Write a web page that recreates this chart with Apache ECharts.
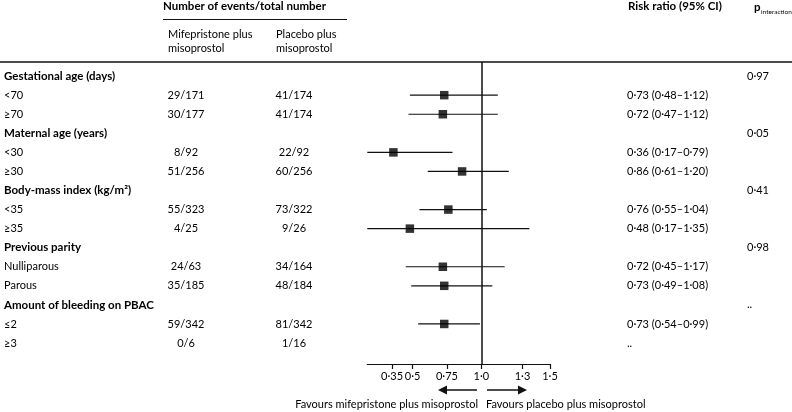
<!DOCTYPE html>
<html><head><meta charset="utf-8">
<script src="https://cdn.jsdelivr.net/npm/echarts@6/dist/echarts.min.js"></script>
<style>html,body{margin:0;padding:0;background:#fff}#c{width:792px;height:412px}</style>
</head><body><div id="c"></div>
<script>
// ---- data ----
const rowLabels = ['Gestational age (days)', '<70', '≥70', 'Maternal age (years)', '<30', '≥30',
  'Body-mass index (kg/m²)', '<35', '≥35', 'Previous parity', 'Nulliparous', 'Parous',
  'Amount of bleeding on PBAC', '≤2', '≥3'];
const isGroupHeader = [1,0,0,1,0,0,1,0,0,1,0,0,1,0,0];
const mifeEvents = ['', '29/171', '30/177', '', '8/92', '51/256', '', '55/323', '4/25', '', '24/63', '35/185', '', '59/342', '0/6'];
const placeboEvents = ['', '41/174', '41/174', '', '22/92', '60/256', '', '73/322', '9/26', '', '34/164', '48/184', '', '81/342', '1/16'];
const riskRatio = [null, 0.73, 0.72, null, 0.36, 0.86, null, 0.76, 0.48, null, 0.72, 0.73, null, 0.73, null];
const ciLow     = [null, 0.48, 0.47, null, 0.17, 0.61, null, 0.55, 0.17, null, 0.45, 0.49, null, 0.54, null];
const ciHigh    = [null, 1.12, 1.12, null, 0.79, 1.20, null, 1.04, 1.35, null, 1.17, 1.08, null, 0.99, null];
const notEstimable = [0,0,0,0,0,0,0,0,0,0,0,0,0,0,1];
const pInteraction = ['0·97', '', '', '0·05', '', '', '0·41', '', '', '0·98', '', '', '..', '', ''];
const xTicks = [0.35, 0.5, 0.75, 1.0, 1.3, 1.5];
const xTickLabels = ['0·35', '0·5', '0·75', '1·0', '1·3', '1·5'];

// ---- helpers ----
const FONT = 'Lato, "Open Sans", sans-serif';
const TXT = '#000';
const fmt = v => v.toFixed(2).replace('.', '·');
const rrText = riskRatio.map((r, i) => r != null ? `${fmt(r)} (${fmt(ciLow[i])}–${fmt(ciHigh[i])})` : (notEstimable[i] ? '..' : ''));

const Y_MIN = -0.74, Y_MAX = 15.1;
const GRID_TOP = 62, GRID_BOTTOM = 48;

function textColumn(name, texts, colX, align, weightFn) {
  const data = [];
  texts.forEach((t, i) => { if (t) data.push([colX, i, t]); });
  return {
    type: 'custom', name, xAxisIndex: 1, yAxisIndex: 1, silent: true,
    data,
    renderItem(params, api) {
      const row = api.value(1);
      const p = api.coord([api.value(0), row]);
      const t = data[params.dataIndex][2];
      const bold = weightFn ? weightFn(row) : false;
      return {
        type: 'text', x: p[0], y: p[1],
        style: {
          text: t, fill: TXT,
          font: (bold ? 'bold 11.5px ' : '11px ') + FONT,
          textAlign: align, textVerticalAlign: 'middle',
          align: align, verticalAlign: 'middle'
        }
      };
    }
  };
}

const chart = echarts.init(document.getElementById('c'), null, { renderer: 'canvas' });
chart.setOption({
  animation: false,
  backgroundColor: '#fff',
  grid: [
    { left: 367.3, right: 242, top: GRID_TOP, bottom: GRID_BOTTOM },
    { left: 0, right: 0, top: GRID_TOP, bottom: GRID_BOTTOM }
  ],
  xAxis: [
    {
      type: 'value', gridIndex: 0, min: 0.17, max: 1.5,
      splitLine: { show: false },
      axisLine: { show: true, onZero: false, lineStyle: { color: '#111', width: 1.2 } },
      axisTick: { show: true, customValues: xTicks, length: 5, lineStyle: { color: '#111', width: 1.2 } },
      axisLabel: {
        show: true, customValues: xTicks, margin: 7, color: TXT, fontSize: 11, fontFamily: FONT,
        formatter: v => { const k = xTicks.findIndex(t => Math.abs(t - v) < 1e-6); return k >= 0 ? xTickLabels[k] : ''; }
      }
    },
    { type: 'value', gridIndex: 1, min: 0, max: 792, show: false }
  ],
  yAxis: [
    { type: 'value', gridIndex: 0, min: Y_MIN, max: Y_MAX, inverse: true, show: false },
    { type: 'value', gridIndex: 1, min: Y_MIN, max: Y_MAX, inverse: true, show: false }
  ],
  series: [
    {
      type: 'custom', name: 'ci', xAxisIndex: 0, yAxisIndex: 0, silent: true,
      data: riskRatio.map((r, i) => r != null ? [ciLow[i], ciHigh[i], i] : null).filter(d => d),
      renderItem(params, api) {
        const a = api.coord([api.value(0), api.value(2)]);
        const b = api.coord([api.value(1), api.value(2)]);
        return { type: 'line', shape: { x1: a[0], y1: a[1], x2: b[0], y2: b[1] },
          style: { stroke: '#111', lineWidth: 1.2 } };
      }
    },
    {
      type: 'scatter', name: 'rr', xAxisIndex: 0, yAxisIndex: 0, silent: true,
      symbol: 'rect', symbolSize: 8.5, itemStyle: { color: '#000' },
      data: riskRatio.map((r, i) => r != null ? [r, i] : null).filter(d => d),
      markLine: {
        silent: true, symbol: 'none', label: { show: false },
        lineStyle: { color: '#111', width: 1.5, type: 'solid' },
        data: [{ xAxis: 1 }]
      }
    },
    textColumn('labels', rowLabels, 4, 'left', i => isGroupHeader[i] === 1),
    textColumn('mife', mifeEvents, 186, 'center'),
    textColumn('placebo', placeboEvents, 294, 'center'),
    textColumn('rr', rrText, 627, 'left'),
    textColumn('p', pInteraction, 747, 'left')
  ],
  graphic: [
    { type: 'text', left: 163, top: 0, style: { text: 'Number of events/total number', font: 'bold 11.5px ' + FONT, fill: TXT } },
    { type: 'line', shape: { x1: 163, y1: 19.5, x2: 347, y2: 19.5 }, style: { stroke: '#111', lineWidth: 1 } },
    { type: 'text', left: 168, top: 27, style: { text: 'Mifepristone plus\nmisoprostol', font: '11px ' + FONT, fill: TXT, lineHeight: 14 } },
    { type: 'text', left: 276, top: 27, style: { text: 'Placebo plus\nmisoprostol', font: '11px ' + FONT, fill: TXT, lineHeight: 14 } },
    { type: 'text', left: 628, top: 0, style: { text: 'Risk ratio (95% CI)', font: 'bold 11.5px ' + FONT, fill: TXT } },
    { type: 'text', left: 754, top: 1, style: { text: 'p', font: 'bold 11.5px ' + FONT, fill: TXT } },
    { type: 'text', left: 761, top: 8, style: { text: 'interaction', font: '6.5px ' + FONT, fill: TXT } },
    { type: 'line', shape: { x1: 0, y1: 62, x2: 792, y2: 62 }, style: { stroke: '#111', lineWidth: 1.5 } },
    // arrows
    { type: 'line', shape: { x1: 446, y1: 390, x2: 477, y2: 390 }, style: { stroke: '#111', lineWidth: 1.5 } },
    { type: 'polygon', shape: { points: [[438, 390], [447, 385.5], [447, 394.5]] }, style: { fill: '#111' } },
    { type: 'line', shape: { x1: 487, y1: 390, x2: 519, y2: 390 }, style: { stroke: '#111', lineWidth: 1.5 } },
    { type: 'polygon', shape: { points: [[527, 390], [518, 385.5], [518, 394.5]] }, style: { fill: '#111' } },
    { type: 'text', right: 792 - 478, top: 399, style: { text: 'Favours mifepristone plus misoprostol', font: '11px ' + FONT, fill: TXT } },
    { type: 'text', left: 486, top: 399, style: { text: 'Favours placebo plus misoprostol', font: '11px ' + FONT, fill: TXT } }
  ]
});
</script></body></html>
